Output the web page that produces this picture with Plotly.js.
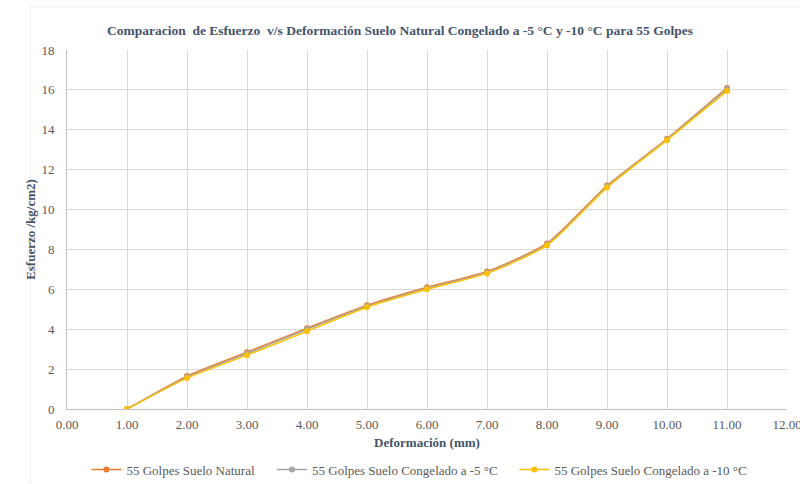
<!DOCTYPE html>
<html>
<head>
<meta charset="utf-8">
<script src="https://cdn.plot.ly/plotly-3.0.1.min.js"></script>
<style>html,body{margin:0;padding:0;background:#fff;}#chart{width:800px;height:484px;}</style>
</head>
<body>
<div id="chart"></div>
<script>
const xDef = [1, 2, 3, 4, 5, 6, 7, 8, 9, 10, 11];
const yNatural = [0, 1.65, 2.85, 4.05, 5.2, 6.1, 6.9, 8.3, 11.2, 13.55, 16.1];
const yCong5 = [0, 1.6, 2.78, 4.0, 5.15, 6.05, 6.85, 8.25, 11.15, 13.52, 16.05];
const yCong10 = [0, 1.55, 2.7, 3.9, 5.1, 6.0, 6.8, 8.2, 11.1, 13.48, 15.95];
const seriesNames = ['55 Golpes Suelo Natural', '55 Golpes Suelo Congelado a -5 °C', '55 Golpes Suelo Congelado a -10 °C'];
const colors = ['#ED7D31', '#A5A5A5', '#FFC000'];
const ys = [yNatural, yCong5, yCong10];
const legendIds = ['legend', 'legend2', 'legend3'];
const legendX = [0.108, 0.34, 0.643];

const traces = ys.map((y, i) => ({
  x: xDef, y: y, name: seriesNames[i], type: 'scatter', mode: 'lines+markers',
  legend: legendIds[i],
  line: {color: colors[i], width: 1.5, shape: 'spline', smoothing: 0.6},
  marker: {color: colors[i], size: 6}
}));

const serif = '"Liberation Serif", "Times New Roman", Times, "DejaVu Serif", serif';
const legFont = {family: serif, size: 13, color: '#595959'};
const mkLegend = (x) => ({orientation: 'h', xref: 'container', yref: 'container', x: x, xanchor: 'left',
  y: 0.03, yanchor: 'middle', font: legFont, itemwidth: 30, bgcolor: 'rgba(0,0,0,0)'});

const layout = {
  width: 800, height: 484,
  margin: {l: 67, r: 13, t: 50, b: 75},
  paper_bgcolor: '#fff', plot_bgcolor: '#fff',
  font: {family: serif, color: '#595959', size: 13},
  title: {text: '<b>Comparacion  de Esfuerzo  v/s Deformación Suelo Natural Congelado a -5 °C y -10 °C para 55 Golpes</b>',
          font: {family: serif, size: 13.5, color: '#44546A'}, x: 0.5, xanchor: 'center', y: 0.937, yanchor: 'middle'},
  xaxis: {range: [0, 12], dtick: 1, tick0: 0, tickformat: '.2f', showgrid: true, gridcolor: '#D9D9D9',
          zeroline: false, showline: true, linecolor: '#BFBFBF', ticks: '', automargin: false,
          ticklabelstandoff: 3, ticklabeloverflow: 'allow',
          tickfont: {family: serif, size: 13, color: '#595959'},
          title: {text: '<b>Deformación (mm)</b>', font: {family: serif, size: 13, color: '#44546A'}, standoff: 7}},
  yaxis: {range: [0, 18], dtick: 2, showgrid: true, gridcolor: '#D9D9D9', zeroline: false,
          showline: true, linecolor: '#BFBFBF', ticks: '', automargin: false,
          ticklabelstandoff: 9,
          tickfont: {family: serif, size: 13, color: '#595959'},
          title: {text: '<b>Esfuerzo /kg/cm2)</b>', font: {family: serif, size: 13, color: '#44546A'}, standoff: 2}},
  showlegend: true,
  legend: mkLegend(legendX[0]),
  legend2: mkLegend(legendX[1]),
  legend3: mkLegend(legendX[2]),
  shapes: [{type: 'rect', xref: 'paper', yref: 'paper', x0: -0.051, x1: 1.02, y0: -0.21, y1: 1.12,
            line: {color: '#EDEDED', width: 1}}]
};
Plotly.newPlot('chart', traces, layout, {displayModeBar: false, staticPlot: true});
</script>
</body>
</html>
